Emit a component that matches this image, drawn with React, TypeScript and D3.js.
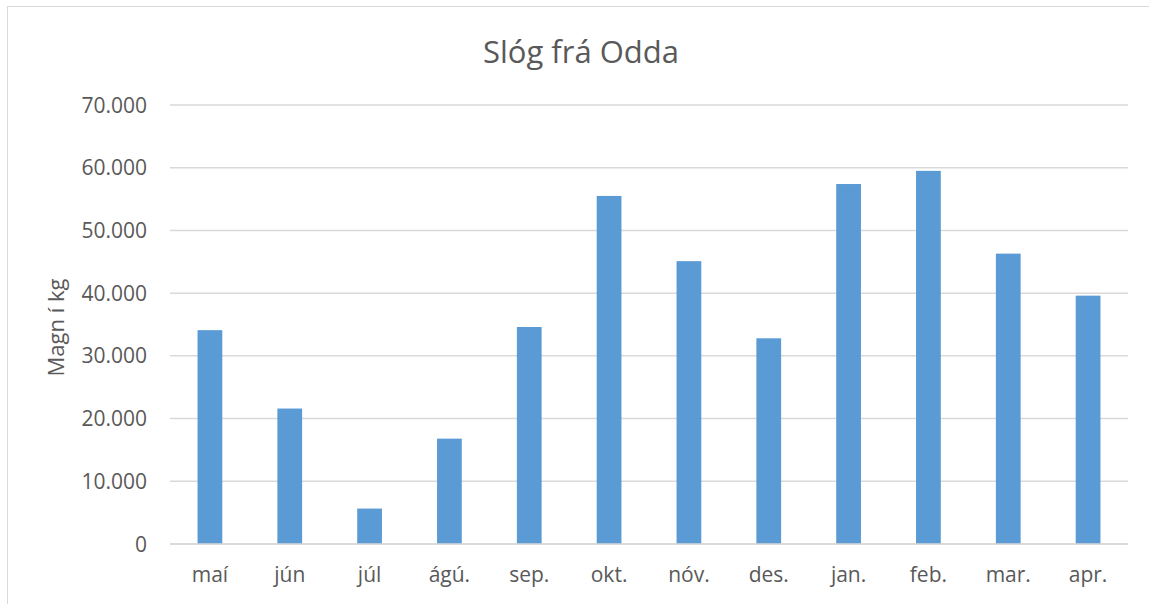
import React, { useEffect, useRef } from "react";
import * as d3 from "d3";

// Chart data
const months = ["maí", "jún", "júl", "ágú.", "sep.", "okt.", "nóv.", "des.", "jan.", "feb.", "mar.", "apr."];
const amounts = [34100, 21600, 5650, 16800, 34600, 55500, 45100, 32800, 57400, 59500, 46300, 39600];
const yTicks = [0, 10000, 20000, 30000, 40000, 50000, 60000, 70000];

const chartTitle = "Slóg frá Odda";
const yTitle = "Magn í kg";

const W = 1149;
const H = 604;
const FONT = "'Open Sans', 'Noto Sans', sans-serif";

export default function App() {
  const ref = useRef<SVGSVGElement | null>(null);

  useEffect(() => {
    const svg = d3.select(ref.current);
    svg.selectAll("*").remove();

    const margin = { top: 105, right: 21, bottom: 60, left: 170 };
    const plotRight = W - margin.right;
    const plotBottom = H - margin.bottom;

    // Outer chart frame
    svg
      .append("rect")
      .attr("x", 7.5)
      .attr("y", 6.5)
      .attr("width", W + 20)
      .attr("height", H + 20)
      .attr("fill", "#fff")
      .attr("stroke", "#d9d9d9")
      .attr("stroke-width", 1);

    const x = d3.scaleBand<string>().domain(months).range([margin.left, plotRight]).paddingInner(0.69).paddingOuter(0.345);
    const y = d3.scaleLinear().domain([0, 70000]).range([plotBottom, margin.top]);

    const fmt = (v: number) => d3.format(",")(v).replace(/,/g, ".");

    // Gridlines
    svg
      .append("g")
      .selectAll("line")
      .data(yTicks)
      .join("line")
      .attr("x1", margin.left)
      .attr("x2", plotRight)
      .attr("y1", (d) => y(d))
      .attr("y2", (d) => y(d))
      .attr("stroke", "#d9d9d9")
      .attr("stroke-width", 1.5);

    // Bars
    svg
      .append("g")
      .selectAll("rect")
      .data(amounts)
      .join("rect")
      .attr("x", (d, i) => x(months[i]) as number)
      .attr("y", (d) => y(d))
      .attr("width", x.bandwidth())
      .attr("height", (d) => y(0) - y(d))
      .attr("fill", "#5b9bd5");

    // Baseline over the bars
    svg
      .append("line")
      .attr("x1", margin.left)
      .attr("x2", plotRight)
      .attr("y1", y(0))
      .attr("y2", y(0))
      .attr("stroke", "#d9d9d9")
      .attr("stroke-width", 1.5);

    // Y tick labels
    svg
      .append("g")
      .selectAll("text")
      .data(yTicks)
      .join("text")
      .attr("x", 147)
      .attr("y", (d) => y(d))
      .attr("dy", "0.36em")
      .attr("text-anchor", "end")
      .attr("fill", "#595959")
      .style("font-family", FONT)
      .style("font-size", "21px")
      .text((d) => fmt(d));

    // X labels
    svg
      .append("g")
      .selectAll("text")
      .data(months)
      .join("text")
      .attr("x", (d) => (x(d) as number) + x.bandwidth() / 2)
      .attr("y", 582)
      .attr("text-anchor", "middle")
      .attr("fill", "#595959")
      .style("font-family", FONT)
      .style("font-size", "21px")
      .text((d) => d);

    // Title
    svg
      .append("text")
      .attr("x", 581)
      .attr("y", 63)
      .attr("text-anchor", "middle")
      .attr("fill", "#595959")
      .style("font-family", FONT)
      .style("font-size", "31px")
      .text(chartTitle);

    // Y axis title
    svg
      .append("text")
      .attr("transform", `translate(64,${(y(0) + y(70000)) / 2 + 3}) rotate(-90)`)
      .attr("text-anchor", "middle")
      .attr("fill", "#595959")
      .style("font-family", FONT)
      .style("font-size", "22px")
      .text(yTitle);
  }, []);

  return (
    <svg
      ref={ref}
      width={W}
      height={H}
      style={{ position: "absolute", left: 0, top: 0, background: "#fff" }}
    />
  );
}
